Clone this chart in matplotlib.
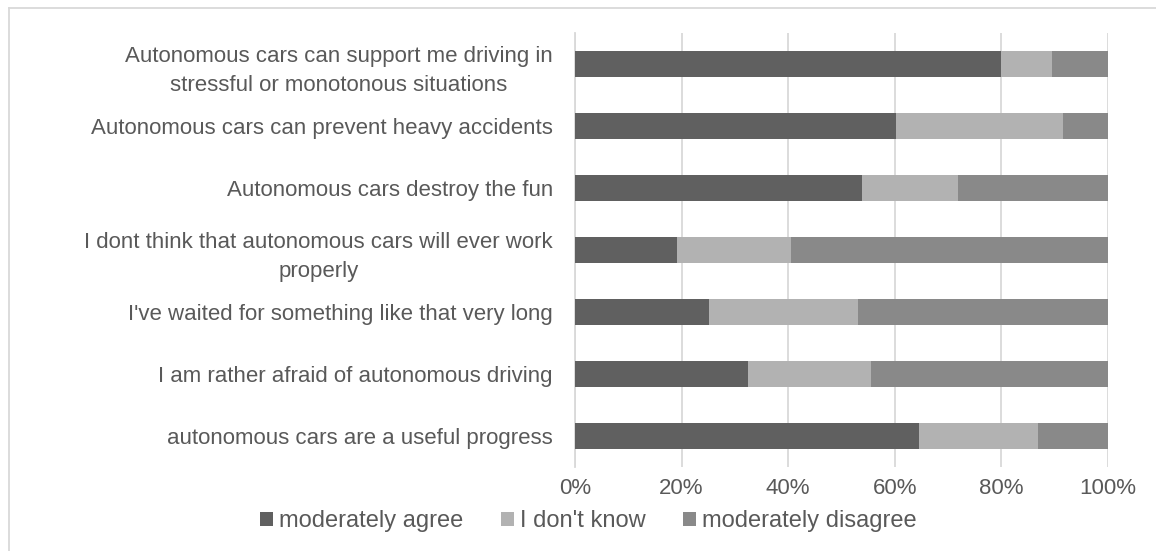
import numpy as np
import matplotlib.pyplot as plt
import matplotlib.lines as mlines

plt.rcParams['font.family'] = ['Liberation Sans', 'DejaVu Sans']

categories = [
    "Autonomous cars can support me driving in\nstressful or monotonous situations",
    "Autonomous cars can prevent heavy accidents",
    "Autonomous cars destroy the fun",
    "I dont think that autonomous cars will ever work\nproperly",
    "I've waited for something like that very long",
    "I am rather afraid of autonomous driving",
    "autonomous cars are a useful progress",
]
agree = [80.0, 60.2, 53.8, 19.2, 25.2, 32.4, 64.6]
dont_know = [9.4, 31.4, 18.0, 21.4, 27.9, 23.2, 22.3]
disagree = [10.6, 8.4, 28.2, 59.4, 46.9, 44.4, 13.1]
series_names = ["moderately agree", "I don't know", "moderately disagree"]
colors = ["#606060", "#b2b2b2", "#898989"]
xticks = [0, 20, 40, 60, 80, 100]

TXT = "#595959"
GRID = "#d9d9d9"
FS = 16

fig = plt.figure(figsize=(11.56, 5.51), dpi=100)
ax = fig.add_axes([575/1156, 1 - 467/551, 533/1156, 434/551])

y = np.arange(len(categories))
left = np.zeros(len(categories))
for vals, name, c in zip([agree, dont_know, disagree], series_names, colors):
    ax.barh(y, vals, left=left, height=0.41, color=c, label=name, zorder=3)
    left = left + np.array(vals)

ax.set_ylim(len(categories) - 0.5, -0.5)
ax.set_xlim(0, 100)
ax.set_xticks(xticks)
ax.set_xticklabels([f"{t}%" for t in xticks])
ax.set_yticks(y)
ax.set_yticklabels(categories)
for lbl in ax.get_yticklabels():
    lbl.set_multialignment('center')
    lbl.set_linespacing(1.5)

ax.tick_params(axis='x', length=0, pad=8, labelsize=FS, labelcolor=TXT)
ax.tick_params(axis='y', length=0, pad=16, labelsize=FS, labelcolor=TXT)
ax.grid(axis='x', color=GRID, lw=1.3, zorder=0)
for s in ['top', 'right', 'bottom']:
    ax.spines[s].set_visible(False)
ax.spines['left'].set_color(GRID)
ax.spines['left'].set_linewidth(1.3)

handles, labels = ax.get_legend_handles_labels()
fig.legend(handles, labels, loc='center', bbox_to_anchor=(0.509, 1 - 521/551),
           ncol=3, frameon=False, fontsize=17, labelcolor=TXT,
           handlelength=0.55, handleheight=0.55, handletextpad=0.25,
           columnspacing=1.6)

# chart frame (only top and left edges visible in the crop)
fig.add_artist(mlines.Line2D([9/1156, 1], [1 - 7.5/551] * 2,
                             transform=fig.transFigure, color=GRID, lw=1.3))
fig.add_artist(mlines.Line2D([9/1156] * 2, [0, 1 - 7.5/551],
                             transform=fig.transFigure, color=GRID, lw=1.3))

fig.savefig("out.png", dpi=100)
